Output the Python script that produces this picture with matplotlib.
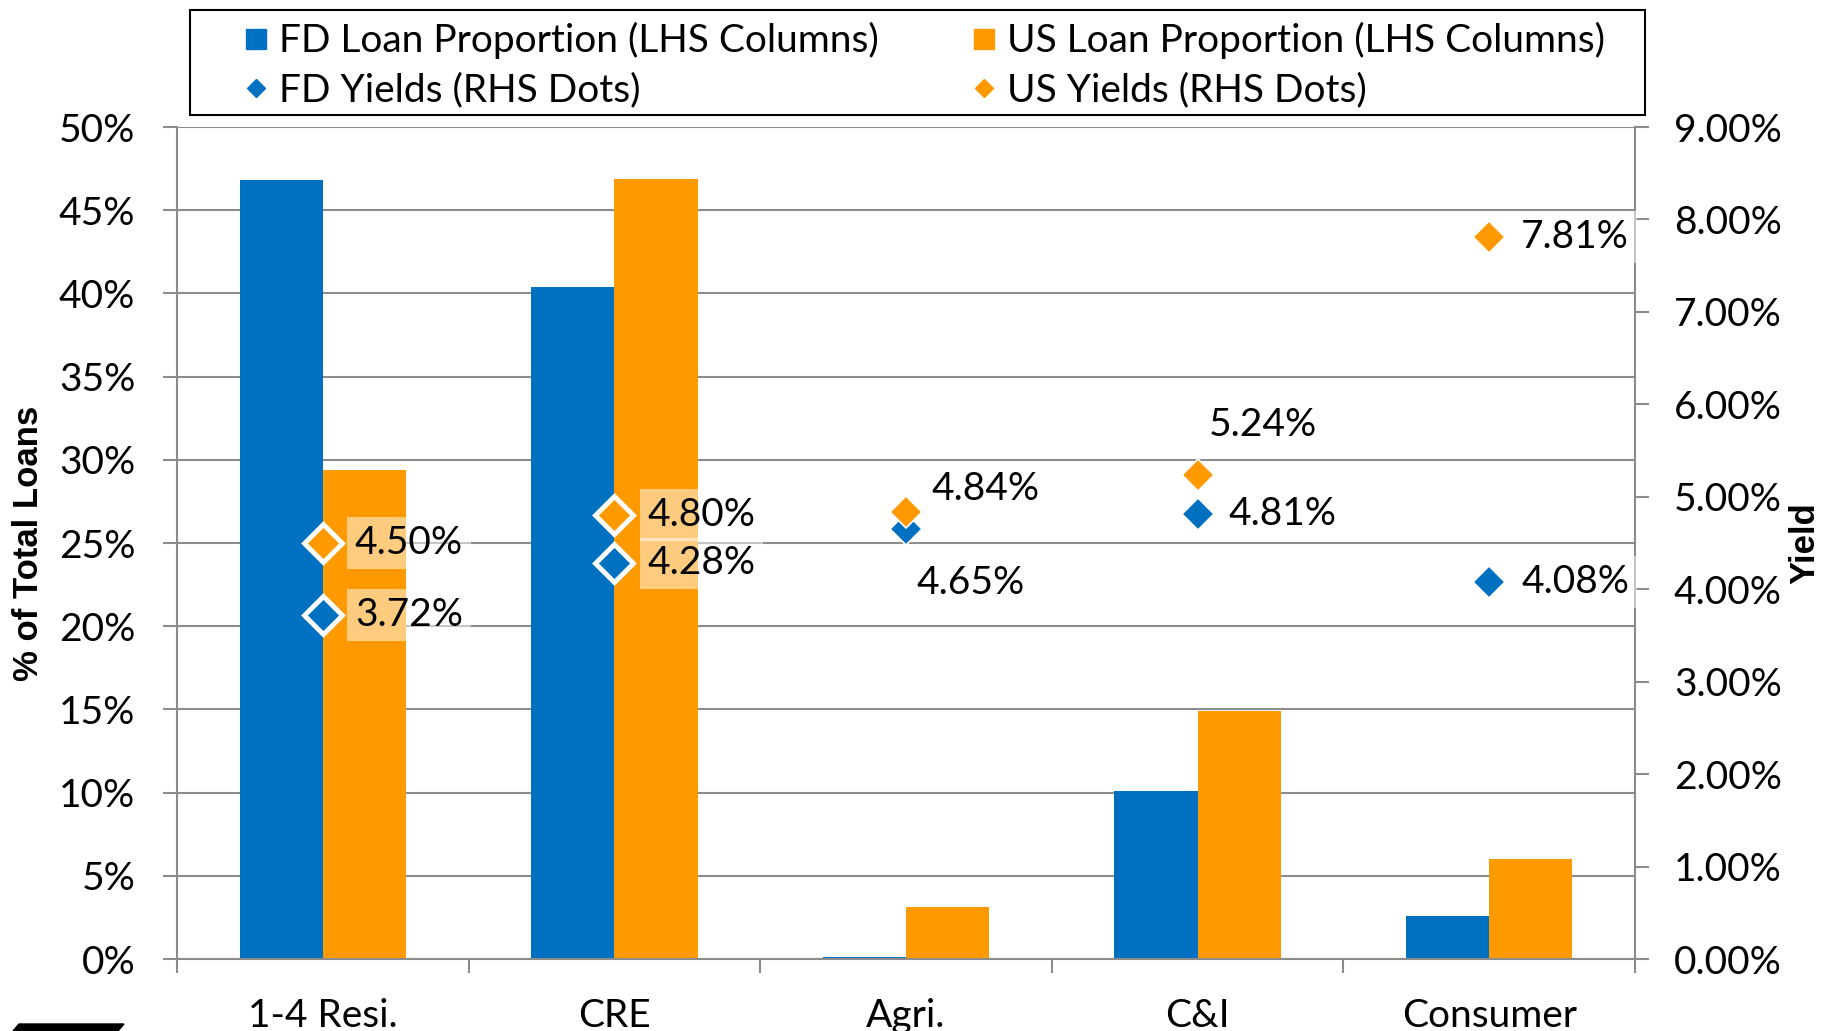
import numpy as np
import matplotlib
matplotlib.use('Agg')
import matplotlib.pyplot as plt
from matplotlib.lines import Line2D
from matplotlib.patches import Polygon, Rectangle
from matplotlib.ticker import FuncFormatter

categories = ['1-4 Resi.', 'CRE', 'Agri.', 'C&I', 'Consumer']
fd_share = [46.8, 40.4, 0.1, 10.1, 2.6]    # % of total loans
us_share = [29.4, 46.9, 3.1, 14.9, 6.0]
fd_yield = [3.72, 4.28, 4.65, 4.81, 4.08]  # yield, %
us_yield = [4.50, 4.80, 4.84, 5.24, 7.81]

BLUE = '#0070C0'
ORANGE = '#FF9900'
GRID = '#8C8C8C'
W, H = 1825, 1031
FS = 28

plt.rcParams['font.family'] = ['Lato', 'DejaVu Sans']

fig = plt.figure(figsize=(W / 100, H / 100), dpi=100)
ax = fig.add_axes([177 / W, 72 / H, 1458 / W, 832 / H])

x = np.arange(len(categories))
bw = 0.285
ax.bar(x - bw / 2, fd_share, bw, color=BLUE)
ax.bar(x + bw / 2, us_share, bw, color=ORANGE)
ax.set_xlim(-0.5, len(categories) - 0.5)
ax.set_ylim(0, 50)
ax.set_yticks(np.arange(0, 51, 5))
ax.yaxis.set_major_formatter(FuncFormatter(lambda v, p: f'{v:.0f}%'))
ax.set_axisbelow(True)
ax.grid(axis='y', color=GRID, lw=1.5)

# boundaries get tick marks, centres get the names
ax.set_xticks(np.arange(-0.5, len(categories), 1))
ax.set_xticklabels([])
ax.set_xticks(x, minor=True)
ax.set_xticklabels(categories, minor=True)
ax.tick_params(axis='x', which='minor', length=0, pad=28, labelsize=FS)
ax.tick_params(axis='x', which='major', length=10, width=1.5, color=GRID)
ax.tick_params(axis='y', length=10, width=1.5, color=GRID, pad=20, labelsize=FS)
for s in ['top', 'right']:
    ax.spines[s].set_visible(False)
for s in ['left', 'bottom']:
    ax.spines[s].set_color(GRID)
    ax.spines[s].set_linewidth(1.5)

ax2 = ax.twinx()
ax2.set_ylim(0, 9)
ax2.set_yticks(np.arange(0, 10, 1))
ax2.yaxis.set_major_formatter(FuncFormatter(lambda v, p: f'{v:.2f}%'))
ax2.tick_params(axis='y', length=10, width=1.5, color=GRID, pad=18, labelsize=FS)
for s in ['top', 'left', 'bottom']:
    ax2.spines[s].set_visible(False)
ax2.spines['right'].set_color(GRID)
ax2.spines['right'].set_linewidth(1.5)

# yield dots; first two categories are highlighted with bigger white-rimmed diamonds
fd_off = [(32, 0), (33, 0), (10, -54), (31, 0), (32, 0)]
us_off = [(32, 0), (33, 0), (25, 23), (11, 50), (32, 0)]
for i in x:
    big = i < 2
    ms = 19 if big else 16
    mew = 3.5 if big else 1.2
    ax2.plot(i, fd_yield[i], ls='none', marker='D', ms=ms, mfc=BLUE, mec='white', mew=mew, zorder=3)
    ax2.plot(i, us_yield[i], ls='none', marker='D', ms=ms, mfc=ORANGE, mec='white', mew=mew, zorder=3)
for vals, offs in [(fd_yield, fd_off), (us_yield, us_off)]:
    for i in x:
        ax2.annotate(f'{vals[i]:.2f}%', (i, vals[i]), xytext=offs[i], textcoords='offset pixels',
                     ha='left', va='center', fontsize=FS, zorder=4,
                     bbox=dict(boxstyle='square,pad=0.2', fc='white', ec='none', alpha=0.5))

fig.text(29 / W, 1 - 543 / H, '% of Total Loans', rotation=90, ha='center', va='center',
         fontsize=25, fontweight='bold', family=['Liberation Sans'])
fig.text(1805 / W, 1 - 543 / H, 'Yield', rotation=90, ha='center', va='center',
         fontsize=25, fontweight='bold', family=['Liberation Sans'])

# legend: entries placed without frame, box drawn separately
handles = [Line2D([], [], ls='none', marker='s', ms=15, color=BLUE),
           Line2D([], [], ls='none', marker='D', ms=9.5, color=BLUE),
           Line2D([], [], ls='none', marker='s', ms=15, color=ORANGE),
           Line2D([], [], ls='none', marker='D', ms=9.5, color=ORANGE)]
labels = ['FD Loan Proportion (LHS Columns)', 'FD Yields (RHS Dots)',
          'US Loan Proportion (LHS Columns)', 'US Yields (RHS Dots)']
fig.legend(handles, labels, ncol=2, loc='upper left', bbox_to_anchor=(244 / W, 1 - 22 / H),
           fontsize=FS, frameon=False, handlelength=0.6, handletextpad=0.3,
           borderaxespad=0, borderpad=0, labelspacing=0.34, columnspacing=2.4)
fig.add_artist(Rectangle((190 / W, 1 - 115 / H), 1455 / W, 105 / H, transform=fig.transFigure,
                         fc='none', ec='black', lw=1.5))

# cut-off logo edge in the bottom-left corner
fig.add_artist(Polygon([[13 / W, 0], [19 / W, 7 / H], [124 / W, 7 / H], [118 / W, 0]],
                       closed=True, transform=fig.transFigure, color='black'))

fig.savefig('out.png', dpi=100)
